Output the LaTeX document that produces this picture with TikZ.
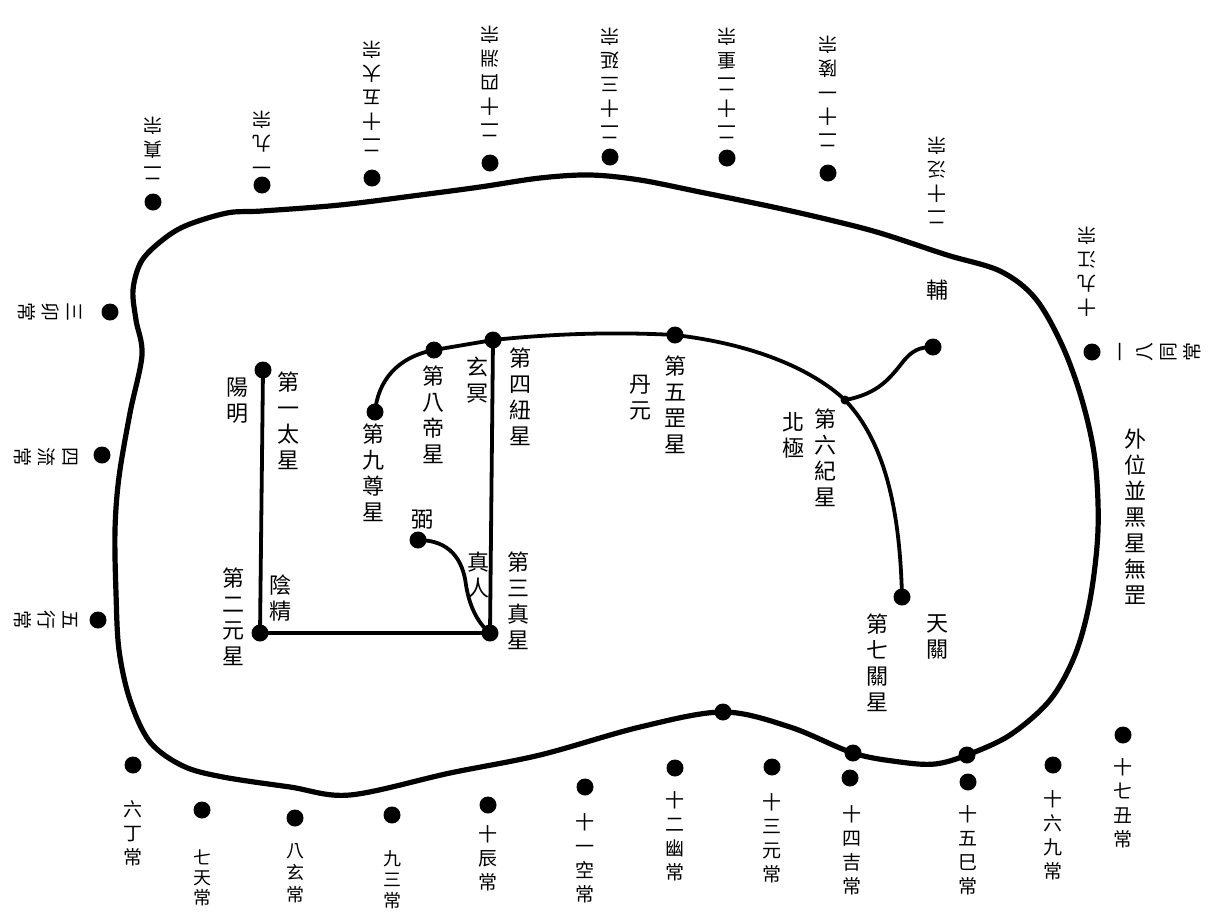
\documentclass[tikz,border=0pt]{standalone}
\usepackage{fontspec}
\newfontfamily\cjk{Noto Sans CJK TC}
\begin{document}
\begin{tikzpicture}[x=1pt,y=-1pt,
  dot/.style={circle,fill=black,inner sep=0pt,minimum size=17pt},
  sdot/.style={circle,fill=black,inner sep=0pt,minimum size=9pt},
  link/.style={line width=3.8pt,line cap=round,line join=round},
  ring/.style={line width=5.2pt,line join=round},
  lab/.style={font=\cjk\fontsize{22}{26}\selectfont,align=center,inner sep=0pt},
  olab/.style={font=\cjk\fontsize{19}{24}\selectfont,align=center,inner sep=0pt},
  toplab/.style={olab,rotate=180},
  leftlab/.style={olab,rotate=-90},
  rightlab/.style={olab,rotate=90}]
\path[use as bounding box,fill=white] (0,0) rectangle (1216,911);

% outer ring
\draw[ring] plot[smooth cycle,tension=0.55] coordinates {
 (136,320) (133,290) (141,262) (160,242) (185,226) (227,213) (262,211)
 (340,205) (420,195) (480,187) (540,178) (590,175) (640,180) (700,192)
 (773,207) (830,220) (880,233) (947,255) (1000,271) (1035,298) (1062,345)
 (1082,400) (1095,460) (1098,530) (1090,600) (1075,655) (1050,700)
 (1010,735) (967,755) (935,764) (900,762) (853,753) (790,727) (723,712)
 (640,727) (540,755) (450,773) (350,795) (290,787) (223,777) (183,766)
 (150,742) (130,700) (119,650) (116,593) (115,530) (119,477) (130,413)
 (142,355)};

% dots on ring
\node[dot] (r1) at (723,712) {};
\node[dot] (r2) at (853,753) {};
\node[dot] (r3) at (967,755) {};

% inner stars
\node[dot] (tai)  at (263,370) {};
\node[dot] (yuan) at (260,633) {};
\node[dot] (zhen) at (490,633) {};
\node[dot] (niu)  at (493,340) {};
\node[dot] (di)   at (434,350) {};
\node[dot] (zun)  at (375,412) {};
\node[dot] (bi)   at (418,540) {};
\node[dot] (gang) at (675,335) {};
\node[sdot] (ji)  at (845,400) {};
\node[dot] (fu)   at (933,347) {};
\node[dot] (guan) at (902,597) {};

\draw[link] (tai.center) -- (yuan.center) -- (zhen.center) -- (niu.center) -- (di.center);
\draw[link] (di.center) .. controls (398,357) and (378,380) .. (zun.center);
\draw[link] (niu.center) .. controls (560,333) and (620,332) .. (gang.center);
\draw[link] (gang.center) .. controls (760,345) and (815,372) .. (ji.center);
\draw[link] (ji.center) .. controls (885,442) and (900,510) .. (guan.center);
\draw[link] (ji.center) .. controls (878,394) and (890,378) .. (902,363)
                        .. controls (912,350) and (920,347) .. (fu.center);
\draw[link] (bi.center) .. controls (450,540) and (463,560) .. (466,585)
                        .. controls (470,610) and (480,625) .. (zhen.center);

% inner labels
\node[lab] (l1) at (237,401) {陽\\明};
\node[lab] (l2) at (288,421) {第\\一\\太\\星};
\node[lab] (l3) at (433,415) {第\\八\\帝\\星};
\node[lab] (l4) at (477,380) {玄\\冥};
\node[lab] (l5) at (520,397) {第\\四\\紐\\星};
\node[lab] (l6) at (373,473) {第\\九\\尊\\星};
\node[lab] (l7) at (422,520) {弼};
\node[lab] (l8) at (478,575) {真\\人};
\node[lab] (l9) at (518,601) {第\\三\\真\\星};
\node[lab] (l10) at (233,617) {第\\二\\元\\星};
\node[lab] (l11) at (280,598) {陰\\精};
\node[lab] (l12) at (675,405) {第\\五\\罡\\星};
\node[lab] (l13) at (640,398) {丹\\元};
\node[lab] (l14) at (793,435) {北\\極};
\node[lab] (l15) at (825,458) {第\\六\\紀\\星};
\node[lab] (l16) at (877,663) {第\\七\\關\\星};
\node[lab] (l17) at (937,637) {天\\關};
\node[lab] (l18) at (937,290) {輔};
\node[lab] (l19) at (1135,517) {外\\位\\並\\黑\\星\\無\\罡};

% outer dots
\node[dot] (t1) at (153,202) {};
\node[dot] (t2) at (262,185) {};
\node[dot] (t3) at (372,178) {};
\node[dot] (t4) at (490,163) {};
\node[dot] (t5) at (610,157) {};
\node[dot] (t6) at (727,158) {};
\node[dot] (t7) at (828,173) {};
\node[dot] (e1) at (1092,352) {};
\node[dot] (w1) at (110,312) {};
\node[dot] (w2) at (102,455) {};
\node[dot] (w3) at (98,620) {};
\node[dot] (b1) at (133,765) {};
\node[dot] (b2) at (202,810) {};
\node[dot] (b3) at (295,818) {};
\node[dot] (b4) at (392,815) {};
\node[dot] (b5) at (488,805) {};
\node[dot] (b6) at (585,787) {};
\node[dot] (b7) at (675,768) {};
\node[dot] (b8) at (772,767) {};
\node[dot] (b9) at (850,778) {};
\node[dot] (b10) at (968,782) {};
\node[dot] (b11) at (1053,765) {};
\node[dot] (b12) at (1123,735) {};

% top labels (upside down)
\node[toplab] at (153,148) {二\\真\\宗};
\node[toplab] at (262,140) {一\\九\\宗};
\node[toplab] at (372,96) {二\\十\\五\\大\\宗};
\node[toplab] at (490,81) {二\\十\\四\\淵\\宗};
\node[toplab] at (610,83) {二\\十\\三\\延\\宗};
\node[toplab] at (727,83) {二\\十\\二\\重\\宗};
\node[toplab] at (828,91) {二\\十\\一\\陵\\宗};
\node[toplab] at (937,180) {二\\十\\泛\\宗};
\node[toplab] at (1087,272) {十\\九\\江\\宗};

% right label
\node[rightlab] at (1160,352) {一\\八\\同\\常};

% left labels
\node[leftlab] at (50,312) {三\\卯\\常};
\node[leftlab] at (46,457) {四\\流\\常};
\node[leftlab] at (46,620) {五\\行\\常};

% bottom labels
\node[olab] at (133,833) {六\\丁\\常};
\node[olab,font=\cjk\fontsize{18}{20}\selectfont] at (202,878) {七\\天\\常};
\node[olab,font=\cjk\fontsize{18}{22}\selectfont] at (295,873) {八\\玄\\常};
\node[olab,font=\cjk\fontsize{18}{21}\selectfont] at (392,880) {九\\三\\常};
\node[olab] at (488,858) {十\\辰\\常};
\node[olab] at (585,858) {十\\一\\空\\常};
\node[olab] at (675,836) {十\\二\\幽\\常};
\node[olab] at (772,838) {十\\三\\元\\常};
\node[olab] at (852,850) {十\\四\\吉\\常};
\node[olab] at (968,850) {十\\五\\巳\\常};
\node[olab] at (1053,835) {十\\六\\九\\常};
\node[olab] at (1123,803) {十\\七\\丑\\常};
\end{tikzpicture}
\end{document}
